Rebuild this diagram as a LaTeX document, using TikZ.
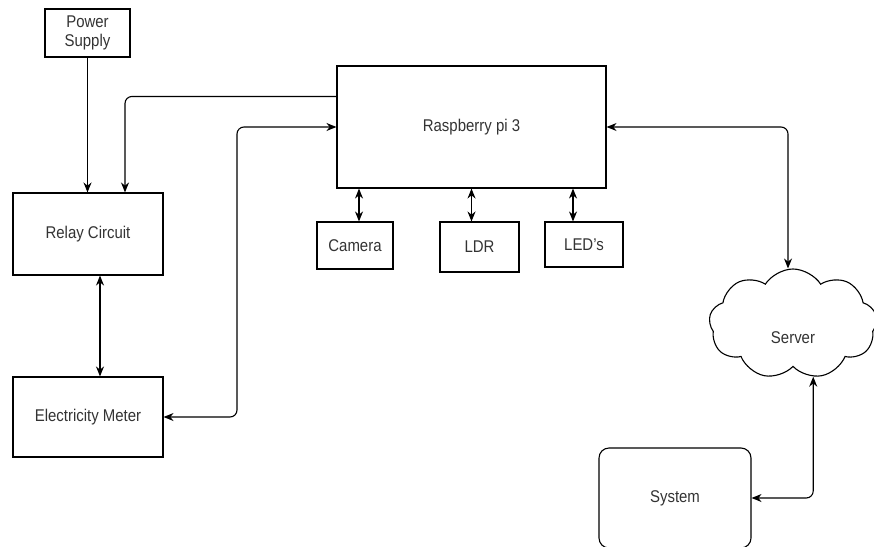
\documentclass[tikz,border=0pt]{standalone}
\usepackage{fontspec}
\setmainfont{Liberation Sans}[FakeStretch=0.88]
\usetikzlibrary{arrows.meta,shapes.symbols}
\begin{document}
\begin{tikzpicture}[x=1pt, y=-1pt,
            block/.style={draw, line width=1.1pt, inner sep=2pt, text=black!80, font=\fontsize{17}{19}\selectfont, align=center},
            link/.style={line width=1.1pt, rounded corners=7pt},
            tip/.style={-{Stealth[length=10pt,width=8pt]}},
            tips/.style={{Stealth[length=10pt,width=8pt]}-{Stealth[length=10pt,width=8pt]}}
            ]
            \useasboundingbox (0,0) rectangle (874,546);

            \node[block, minimum width=85pt, minimum height=48pt] (pwr) at (87.5,33) {Power\\Supply};
            \node[block, minimum width=150pt, minimum height=82pt] (rly) at (88,234) {Relay Circuit};
            \node[block, minimum width=150pt, minimum height=80pt] (mtr) at (88,417) {Electricity Meter};
            \node[block, minimum width=269pt, minimum height=122pt] (pi) at (471.5,127) {Raspberry pi 3};
            \node[block, minimum width=76pt, minimum height=47pt] (cam) at (355,245.5) {Camera};
            \node[block, minimum width=79pt, minimum height=50pt] (ldr) at (479.5,247) {LDR};
            \node[block, minimum width=78pt, minimum height=45pt] (led) at (584,244.5) {LED's};
            \node[cloud, draw, line width=1.1pt, cloud puffs=9, cloud puff arc=115, aspect=1.5,
                  minimum width=168pt, minimum height=110pt] (srv) at (793,324) {};
            \node[text=black!80, font=\fontsize{17}{19}\selectfont] (srvtxt) at (793,338) {Server};
            \node[block, rounded corners=10pt, minimum width=152pt, minimum height=100pt] (sys) at (675,498) {System};

            % power and relay
            \draw[link, tip] (pwr) -- (rly.north -| pwr);
            \draw[link, tip] ([yshift=-31pt]pi.north west) -| ([xshift=37pt]rly.north);
            \draw[link, tips] ([xshift=12pt]rly.south) -- ([xshift=12pt]mtr.north);
            \draw[link, tips] (mtr.east) -| (237,300) |- (pi.west);

            % peripherals
            \draw[link, tips] ([xshift=4pt]cam.north) -- ([xshift=4pt]cam.north |- pi.south);
            \draw[link, tips] ([xshift=-8pt]ldr.north) -- ([xshift=-8pt]ldr.north |- pi.south);
            \draw[link, tips] ([xshift=-11pt]led.north) -- ([xshift=-11pt]led.north |- pi.south);

            % server side
            \draw[link, tips] (pi.east) -| ([xshift=-5pt]srv.north);
            \draw[link, tips] (srv.-69) |- (sys.east);

            \end{tikzpicture}
\end{document}
